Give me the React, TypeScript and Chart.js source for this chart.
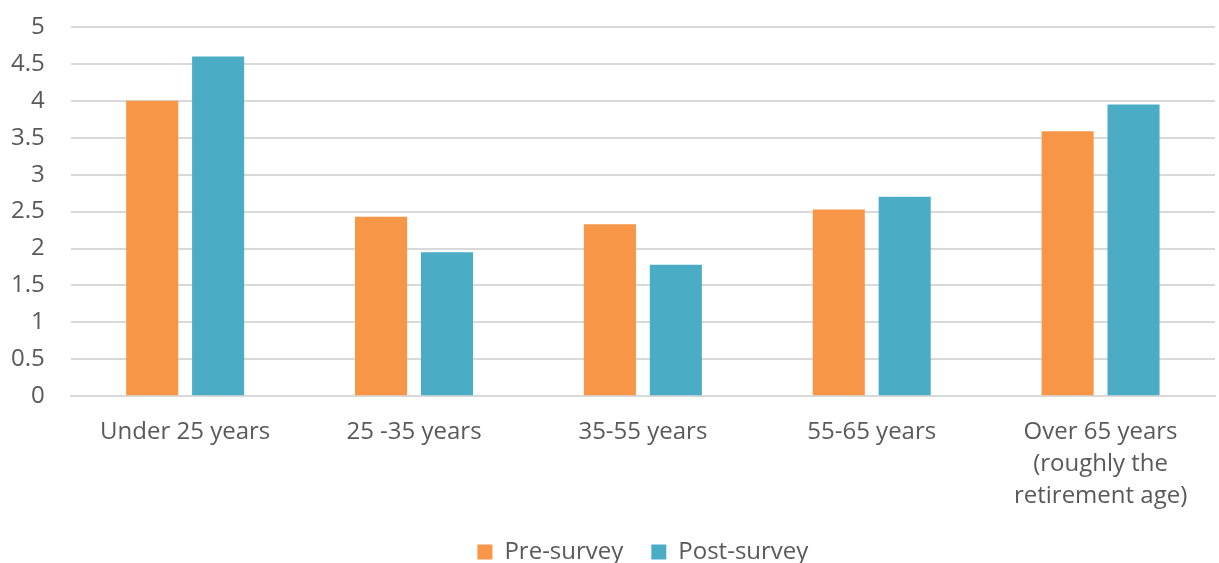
import React, { useEffect, useRef } from "react";
import { Chart, registerables } from "chart.js";

Chart.register(...registerables);

const categories: (string | string[])[] = [
  "Under 25 years",
  "25 -35 years",
  "35-55 years",
  "55-65 years",
  ["Over 65 years", "(roughly the", "retirement age)"],
];
const preSurvey = [4.0, 2.43, 2.33, 2.53, 3.59];
const postSurvey = [4.6, 1.95, 1.78, 2.7, 3.95];
const seriesNames = ["Pre-survey", "Post-survey"];
const yTicks = { min: 0, max: 5, step: 0.5 };

export default function App() {
  const ref = useRef<HTMLCanvasElement | null>(null);
  useEffect(() => {
    document.body.style.margin = "0";
    if (!ref.current) return;
    const font = { family: "'Open Sans'", size: 24 };
    const chart = new Chart(ref.current, {
      type: "bar",
      data: {
        labels: categories,
        datasets: [
          {
            label: seriesNames[0],
            data: preSurvey,
            backgroundColor: "#F79646",
            categoryPercentage: 0.576,
            barPercentage: 0.79,
          },
          {
            label: seriesNames[1],
            data: postSurvey,
            backgroundColor: "#4BACC6",
            categoryPercentage: 0.576,
            barPercentage: 0.79,
          },
        ],
      },
      options: {
        animation: false,
        responsive: false,
        layout: { padding: { left: -15, right: 4, top: 27, bottom: -11 } },
        plugins: {
          tooltip: { enabled: false },
          legend: {
            position: "bottom",
            fullSize: false,
            labels: {
              boxWidth: 15,
              boxHeight: 15,
              padding: 28,
              color: "#595959",
              font,
            },
          },
        },
        scales: {
          x: {
            grid: { display: false, drawTicks: false },
            border: { color: "#d9d9d9", width: 2 },
            ticks: {
              color: "#595959",
              padding: 20,
              maxRotation: 0,
              autoSkip: false,
              font: { ...font, lineHeight: 1.33 },
            },
            afterFit: (scale: any) => {
              scale.height -= 20;
            },
          },
          y: {
            min: yTicks.min,
            max: yTicks.max,
            grid: { color: "#d9d9d9", lineWidth: 2, drawTicks: false },
            border: { display: false },
            ticks: {
              stepSize: yTicks.step,
              color: "#595959",
              padding: 26,
              font,
              callback: (v: any) => String(Number(v)),
            },
            afterFit: (scale: any) => {
              scale.paddingTop = 0;
            },
          },
        },
      },
    });
    return () => chart.destroy();
  }, []);
  return (
    <div style={{ position: "absolute", left: 0, top: 0, width: 1219, height: 563 }}>
      <canvas ref={ref} width={1219} height={563} />
    </div>
  );
}
